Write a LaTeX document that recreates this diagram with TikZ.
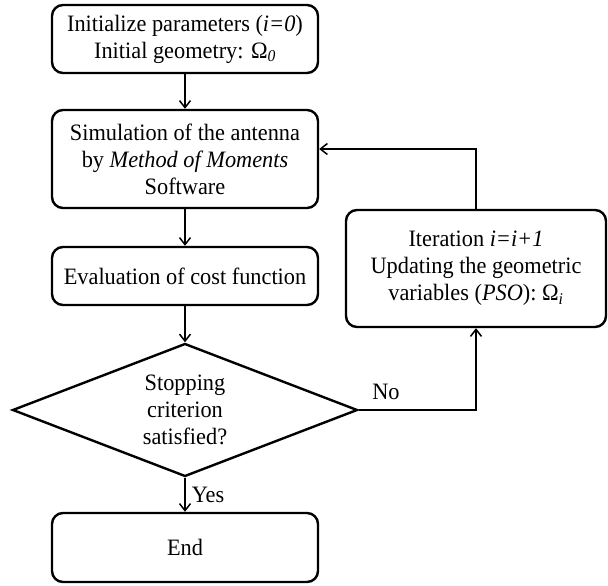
\documentclass[tikz,border=0pt]{standalone}
\usepackage{fontspec}
\setmainfont[FakeStretch=0.95]{Liberation Serif}
\usetikzlibrary{shapes.geometric,arrows.meta}

\begin{document}
\begin{tikzpicture}[x=1pt,y=-1pt,
  every node/.style={font=\fontsize{23.5}{27}\selectfont, align=center},
  procbox/.style={draw, line width=2.4pt, rounded corners=11pt, minimum width=266pt, inner sep=0pt},
  decision/.style={draw, diamond, aspect=2.6, line width=2.4pt, minimum width=345pt, minimum height=133pt, inner sep=0pt},
  flow/.style={line width=1.5pt, -{Straight Barb[length=7pt,width=11pt,line width=1.5pt]}},
  edgelabel/.style={inner sep=0pt}
]
\useasboundingbox (0,0) rectangle (608,586);

% main column
\node[procbox, minimum height=68pt] (init) at (185,39)
  {Initialize parameters (\textit{i=0})\\Initial geometry: Ω\textsubscript{\textit{0}}};
\node[procbox, minimum height=98pt] (sim) at (185,159)
  {Simulation of the antenna\\by \textit{Method of Moments}\\Software};
\node[procbox, minimum height=58pt] (cost) at (185,276)
  {Evaluation of cost function};
\node[decision] (stop) at (185,410)
  {Stopping\\criterion\\satisfied?};
\node[procbox, minimum height=69pt] (end) at (185,547.5) {End};

% update box on the right
\node[procbox, minimum width=260pt, minimum height=117pt] (upd) at (476,268.5)
  {Iteration \textit{i=i+1}\\Updating the geometric\\variables (\textit{PSO}): Ω\textsubscript{\textit{i}}};

% connectors
\draw[flow] (init) -- (sim);
\draw[flow] (sim) -- (cost);
\draw[flow] (cost) -- (stop);
\draw[flow] (stop) -- (end);
\draw[flow] (stop.east) -| (upd.south);
\coordinate (back) at (476,149);
\draw[flow] (upd.north) -- (back) -- (back -| sim.east);

% branch labels
\node[edgelabel] (nolbl) at (386,392) {No};
\node[edgelabel] (yeslbl) at (208,495) {Yes};
\end{tikzpicture}
\end{document}
